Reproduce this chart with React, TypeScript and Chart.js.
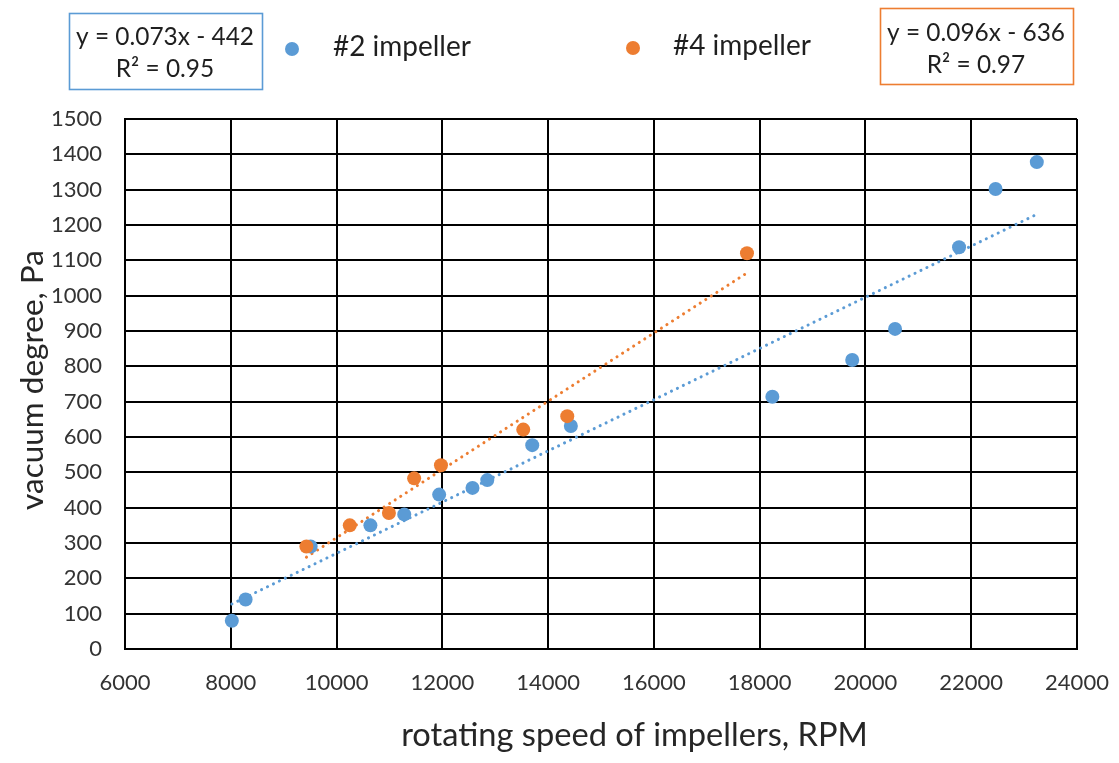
import React, { useEffect, useRef } from "react";
import { Chart, registerables } from "chart.js";

Chart.register(...registerables);

// ---- data ----
const impeller2Rpm = [8020, 8280, 9510, 10640, 11280, 11940, 12570, 12850, 13700, 14430, 18240, 19750, 20560, 21770, 22460, 23240];
const impeller2Pa = [80, 140, 290, 350, 381, 437, 456, 478, 577, 631, 714, 818, 906, 1137, 1302, 1378];
const impeller4Rpm = [9430, 10250, 10990, 11467, 11974, 13530, 14362, 17760];
const impeller4Pa = [290, 350, 385, 483, 520, 621, 659, 1120];

const seriesNames = ["#2 impeller", "#4 impeller"];
const equation2 = ["y = 0.073x - 442", "R\u00B2 = 0.95"];
const equation4 = ["y = 0.096x - 636", "R\u00B2 = 0.97"];
const xTitle = "rotating speed of impellers, RPM";
const yTitle = "vacuum degree, Pa";

const xRange = [6000, 24000];
const xStep = 2000;
const yRange = [0, 1500];
const yStep = 100;

const BLUE = "#5B9BD5";
const ORANGE = "#ED7D31";
const FONT = "Lato";

// least-squares trend line over the data range
function trend(xs: number[], ys: number[]) {
  const n = xs.length;
  const mx = xs.reduce((a, b) => a + b, 0) / n;
  const my = ys.reduce((a, b) => a + b, 0) / n;
  let sxy = 0, sxx = 0;
  for (let i = 0; i < n; i++) {
    sxy += (xs[i] - mx) * (ys[i] - my);
    sxx += (xs[i] - mx) * (xs[i] - mx);
  }
  const k = sxy / sxx;
  const b = my - k * mx;
  const x0 = Math.min(...xs);
  const x1 = Math.max(...xs);
  return [
    { x: x0, y: k * x0 + b },
    { x: x1, y: k * x1 + b },
  ];
}

function fitFont(ctx: CanvasRenderingContext2D, text: string, width: number) {
  ctx.font = `100px ${FONT}`;
  const w = ctx.measureText(text).width;
  return (100 * width) / w;
}

const overlayPlugin = {
  id: "overlay",
  afterDraw(chart: any) {
    const ctx: CanvasRenderingContext2D = chart.ctx;
    ctx.save();
    ctx.textBaseline = "alphabetic";

    // legend
    const legendSize = fitFont(ctx, seriesNames[0], 138);
    const legendItems = [
      { color: BLUE, dotX: 292, dotY: 49, textX: 333, base: 56, label: seriesNames[0] },
      { color: ORANGE, dotX: 633, dotY: 48, textX: 673, base: 55, label: seriesNames[1] },
    ];
    for (const it of legendItems) {
      ctx.fillStyle = it.color;
      ctx.beginPath();
      ctx.arc(it.dotX, it.dotY, 7, 0, Math.PI * 2);
      ctx.fill();
      ctx.fillStyle = "#1f1f1f";
      ctx.font = `${legendSize}px ${FONT}`;
      ctx.textAlign = "left";
      ctx.fillText(it.label, it.textX, it.base);
    }

    // equation boxes
    const eqSize = fitFont(ctx, equation2[0], 178);
    const boxes = [
      { color: BLUE, x: 69, y: 13, w: 193, h: 76, cx: 165, b1: 45, b2: 77, lines: equation2 },
      { color: ORANGE, x: 880, y: 8, w: 193, h: 76, cx: 976, b1: 41, b2: 73, lines: equation4 },
    ];
    for (const bx of boxes) {
      ctx.fillStyle = "#fff";
      ctx.fillRect(bx.x, bx.y, bx.w, bx.h);
      ctx.strokeStyle = bx.color;
      ctx.lineWidth = 1.6;
      ctx.strokeRect(bx.x + 0.5, bx.y + 0.5, bx.w, bx.h);
      ctx.fillStyle = "#1f1f1f";
      ctx.font = `${eqSize}px ${FONT}`;
      ctx.textAlign = "center";
      ctx.fillText(bx.lines[0], bx.cx, bx.b1);
      ctx.fillText(bx.lines[1], bx.cx, bx.b2);
    }

    // axis titles
    ctx.fillStyle = "#262626";
    ctx.textAlign = "center";
    const xs = fitFont(ctx, xTitle, 467);
    ctx.font = `${xs}px ${FONT}`;
    ctx.fillText(xTitle, 634.5, 746);

    const ys = fitFont(ctx, yTitle, 260);
    ctx.font = `${ys}px ${FONT}`;
    ctx.translate(43, 380);
    ctx.rotate(-Math.PI / 2);
    ctx.fillText(yTitle, 0, 0);
    ctx.restore();
  },
};

export default function App() {
  const ref = useRef<HTMLCanvasElement | null>(null);

  useEffect(() => {
    if (!ref.current) return;
    const blue = impeller2Rpm.map((x, i) => ({ x, y: impeller2Pa[i] }));
    const orange = impeller4Rpm.map((x, i) => ({ x, y: impeller4Pa[i] }));

    const tickFont = { family: FONT, size: 22 };
    const chart = new Chart(ref.current, {
      type: "scatter",
      data: {
        datasets: [
          {
            label: seriesNames[1],
            data: orange,
            backgroundColor: ORANGE,
            borderColor: ORANGE,
            borderWidth: 0,
            pointRadius: 7,
          },
          {
            label: seriesNames[0],
            data: blue,
            backgroundColor: BLUE,
            borderColor: BLUE,
            borderWidth: 0,
            pointRadius: 7,
          },
          {
            label: "trend4",
            data: trend(impeller4Rpm, impeller4Pa),
            showLine: true,
            pointRadius: 0,
            borderColor: ORANGE,
            borderWidth: 3,
            borderDash: [0.1, 6.5],
            borderCapStyle: "round",
          } as any,
          {
            label: "trend2",
            data: trend(impeller2Rpm, impeller2Pa),
            showLine: true,
            pointRadius: 0,
            borderColor: BLUE,
            borderWidth: 3,
            borderDash: [0.1, 6.5],
            borderCapStyle: "round",
          } as any,
        ],
      },
      options: {
        responsive: false,
        animation: false,
        devicePixelRatio: 1,
        layout: { padding: { top: 119, right: 42, left: 0, bottom: 0 } },
        plugins: {
          legend: { display: false },
          tooltip: { enabled: false },
        },
        scales: {
          x: {
            type: "linear",
            min: xRange[0],
            max: xRange[1],
            ticks: {
              stepSize: xStep,
              padding: 21,
              color: "#333333",
              font: tickFont,
              callback: (v: any) => String(v),
            },
            grid: { color: "#000", lineWidth: 2, drawTicks: false },
            border: { color: "#000", width: 2 },
            afterFit: (s: any) => {
              s.height = 114;
              s.paddingLeft = 0;
              s.paddingRight = 0;
            },
          },
          y: {
            type: "linear",
            min: yRange[0],
            max: yRange[1],
            ticks: {
              stepSize: yStep,
              padding: 23,
              color: "#333333",
              font: tickFont,
              callback: (v: any) => String(v),
            },
            grid: { color: "#000", lineWidth: 2, drawTicks: false },
            border: { color: "#000", width: 2 },
            afterFit: (s: any) => {
              s.width = 125;
              s.paddingTop = 0;
              s.paddingBottom = 0;
            },
          },
        },
      },
      plugins: [overlayPlugin],
    } as any);
    return () => chart.destroy();
  }, []);

  return (
    <div style={{ position: "absolute", left: 0, top: 0, width: 1119, height: 763, background: "#fff" }}>
      <canvas ref={ref} width={1119} height={763} style={{ display: "block" }} />
    </div>
  );
}
